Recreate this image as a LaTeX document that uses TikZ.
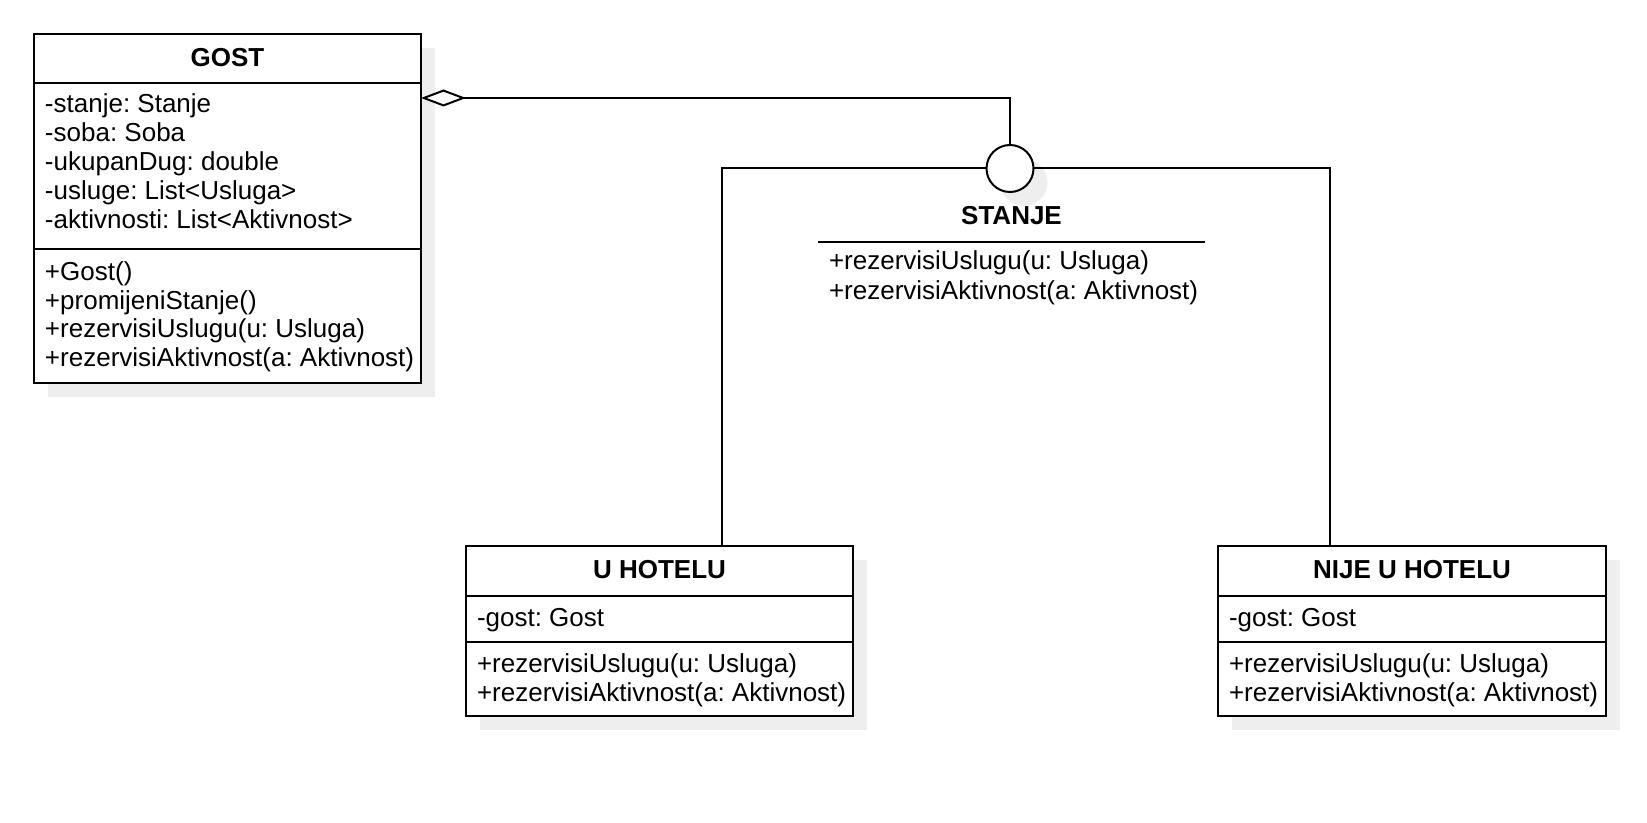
\documentclass[tikz,border=0pt]{standalone}
\usepackage{fontspec}
\setmainfont{Liberation Sans}
\usetikzlibrary{arrows.meta,shadows}
\definecolor{shadowc}{HTML}{EEEEEE}
\frenchspacing
\begin{document}
\begin{tikzpicture}[x=0.75pt,y=-0.75pt,line width=1.5pt,
  shd/.style={drop shadow={shadow xshift=10.5pt,shadow yshift=-10.5pt,fill=shadowc,opacity=1}},
  cls/.style={draw=black,fill=white,line width=1.5pt,inner sep=0pt,outer sep=0pt,anchor=north west,shd},
  txt/.style={anchor=base west,inner sep=0pt,font=\fontsize{19.5}{23}\selectfont},
  ttl/.style={anchor=base,inner sep=0pt,font=\fontsize{19.5}{23}\selectfont\bfseries},
  conn/.style={draw=black,line width=1.5pt},
  agg/.style={{Diamond[fill=white,length=33.75pt,width=12.75pt,line width=1.5pt]}-}]
\useasboundingbox[fill=white] (0,0) rectangle (1647,823);

% ---------- GOST ----------
\node[cls,minimum width=290.25pt,minimum height=261.75pt] (gost) at (34,34) {};
\draw (34,83) -- (421,83);
\draw (34,249.5) -- (421,249.5);
\node[ttl] (gostT) at (227.5,67) {GOST};
\node[txt] (g1) at (44,113) {-stanje: Stanje};
\node[txt] (g2) at (44,142) {-soba: Soba};
\node[txt] (g3) at (44,171) {-ukupanDug: double};
\node[txt] (g4) at (44,200) {-usluge: List<Usluga>};
\node[txt] (g5) at (44,229) {-aktivnosti: List<Aktivnost>};
\node[txt] (g6) at (44,281) {+Gost()};
\node[txt] (g7) at (44,309.5) {+promijeniStanje()};
\node[txt] (g8) at (44,338) {+rezervisiUslugu(u: Usluga)};
\node[txt] (g9) at (44,366.5) {+rezervisiAktivnost(a: Aktivnost)};

% ---------- STANJE (interface) ----------
\node[circle,draw=black,fill=white,line width=1.5pt,minimum size=35.25pt,inner sep=0pt,outer sep=0pt,shd] (circ) at (1010,168.5) {};
\node[ttl] (stT) at (1011.5,225) {STANJE};
\draw (818,242) -- (1205,242);
\node[txt] (s1) at (828,270) {+rezervisiUslugu(u: Usluga)};
\node[txt] (s2) at (828,300) {+rezervisiAktivnost(a: Aktivnost)};

% ---------- U HOTELU ----------
\node[cls,minimum width=290.25pt,minimum height=127.5pt] (uh) at (466,546) {};
\draw (466,596) -- (853,596);
\draw (466,642) -- (853,642);
\node[ttl] (uhT) at (659.5,579) {U HOTELU};
\node[txt] (u1) at (476,626) {-gost: Gost};
\node[txt] (u2) at (476,672) {+rezervisiUslugu(u: Usluga)};
\node[txt] (u3) at (476,701) {+rezervisiAktivnost(a: Aktivnost)};

% ---------- NIJE U HOTELU ----------
\node[cls,minimum width=291pt,minimum height=127.5pt] (nh) at (1218,546) {};
\draw (1218,596) -- (1606,596);
\draw (1218,642) -- (1606,642);
\node[ttl] (nhT) at (1412,579) {NIJE U HOTELU};
\node[txt] (n1) at (1228,626) {-gost: Gost};
\node[txt] (n2) at (1228,672) {+rezervisiUslugu(u: Usluga)};
\node[txt] (n3) at (1228,701) {+rezervisiAktivnost(a: Aktivnost)};

% ---------- connectors ----------
\coordinate (aggy) at (1010,98);
\coordinate (uhin) at (722,546);
\coordinate (nhin) at (1330,546);
\draw[conn,agg] (gost.east |- aggy) -- (aggy) -- (circ.north);
\draw[conn] (circ.west) -| (uhin);
\draw[conn] (circ.east) -| (nhin);
\end{tikzpicture}
\end{document}
